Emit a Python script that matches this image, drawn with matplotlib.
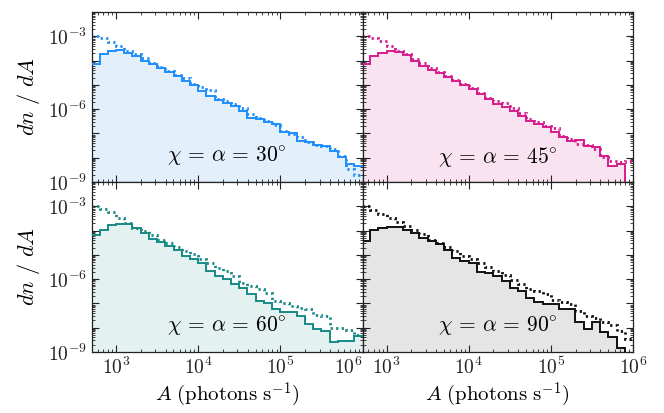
import numpy as np
import matplotlib
matplotlib.use("Agg")
import matplotlib.pyplot as plt
from matplotlib.ticker import LogLocator, FuncFormatter, NullFormatter

plt.rcParams['mathtext.fontset'] = 'cm'
plt.rcParams['font.family'] = 'serif'
plt.rcParams['font.serif'] = ['DejaVu Serif']

# log10(A) bin edges (0.1 dex bins)
log_edges = [2.7 + 0.1 * i for i in range(34)]

# log10(dn/dA)
log30_solid = [-4.16, -3.75, -3.59, -3.55, -3.68, -3.82, -4.00, -4.16, -4.30, -4.46, -4.64,
               -4.84, -5.01, -5.25, -5.46, -5.64, -5.73, -5.87, -6.07, -6.35, -6.41, -6.51,
               -6.62, -6.96, -7.00, -7.30, -7.37, -7.48, -7.51, -7.74, -7.96, -8.26, -8.33]
log30_dot = [-2.97, -3.07, -3.23, -3.41, -3.59, -3.72, -3.89, -4.09, -4.26, -4.43, -4.60,
             -4.73, -4.95, -5.09, -5.23, -5.59, -5.66, -5.80, -5.96, -6.21, -6.35, -6.48,
             -6.65, -6.92, -7.03, -7.14, -7.37, -7.47, -7.51, -7.64, -7.92, -8.45, -8.70]

log45_solid = [-4.13, -3.82, -3.68, -3.59, -3.64, -3.79, -4.00, -4.23, -4.37, -4.50, -4.68,
               -4.84, -5.01, -5.19, -5.39, -5.59, -5.80, -5.91, -6.07, -6.27, -6.48, -6.62,
               -6.75, -6.96, -7.14, -7.33, -7.27, -7.51, -7.55, -7.92, -8.33, -8.26, -12.0]
log45_dot = [-2.97, -3.07, -3.20, -3.41, -3.61, -3.75, -3.92, -4.09, -4.30, -4.46, -4.64,
             -4.81, -4.98, -5.14, -5.32, -5.53, -5.66, -5.73, -5.96, -6.14, -6.41, -6.51,
             -6.69, -6.78, -7.10, -7.24, -7.44, -7.48, -7.64, -7.99, -8.13, -8.19, -8.13]

log60_solid = [-4.20, -3.96, -3.79, -3.72, -3.72, -3.89, -4.12, -4.34, -4.48, -4.64, -4.80,
               -5.05, -5.19, -5.32, -5.66, -5.87, -6.01, -6.21, -6.35, -6.62, -6.89, -6.99,
               -7.24, -7.37, -7.37, -7.51, -7.85, -8.05, -8.12, -8.60, -8.55, -8.55, -8.33]
log60_dot = [-3.00, -3.11, -3.25, -3.48, -3.68, -3.89, -4.02, -4.20, -4.37, -4.50, -4.67,
             -4.84, -4.98, -5.16, -5.35, -5.53, -5.66, -5.87, -6.14, -6.28, -6.42, -6.58,
             -6.89, -6.99, -7.10, -7.17, -7.24, -7.48, -7.51, -8.00, -8.00, -8.10, -8.30]

log90_solid = [-4.43, -3.96, -3.89, -3.85, -3.85, -3.98, -4.12, -4.30, -4.43, -4.57, -4.80,
               -5.12, -5.25, -5.35, -5.70, -5.73, -5.87, -6.07, -6.35, -6.48, -6.76, -6.96,
               -7.03, -7.03, -7.24, -7.24, -7.78, -8.05, -7.78, -8.19, -8.40, -8.85, -12.0]
log90_dot = [-2.97, -3.14, -3.30, -3.48, -3.66, -3.82, -3.98, -4.16, -4.37, -4.50, -4.67,
             -4.84, -5.05, -5.19, -5.35, -5.49, -5.66, -5.84, -6.03, -6.21, -6.42, -6.48,
             -6.62, -6.85, -6.96, -7.03, -7.30, -7.51, -7.62, -7.78, -7.89, -8.12, -8.46]

angles = [30, 45, 60, 90]
solids = [log30_solid, log45_solid, log60_solid, log90_solid]
dots = [log30_dot, log45_dot, log60_dot, log90_dot]
line_colors = ['#1E8EFC', '#D81B8C', '#178A86', '#111111']
fill_colors = ['#E3F0FC', '#F9E3F0', '#E3F2F0', '#E5E5E5']

fig, axes = plt.subplots(2, 2, figsize=(6.64, 4.13), dpi=100, sharex=True, sharey=True)
fig.subplots_adjust(left=0.1386, right=0.9533, top=0.971, bottom=0.1477, wspace=0, hspace=0)

edges = 10 ** np.array(log_edges)
fmt = FuncFormatter(lambda v, p: r'$10^{%d}$' % round(np.log10(v)))

for k, ax in enumerate(axes.flat):
    s = 10 ** np.array(solids[k])
    d = 10 ** np.array(dots[k])
    ax.stairs(s, edges, fill=True, color=fill_colors[k], baseline=1e-12, zorder=1)
    ax.stairs(s, edges, color=line_colors[k], lw=1.4, baseline=None, zorder=3)
    ax.stairs(d, edges, color=line_colors[k], lw=2.0, ls=(0, (0.8, 1.2)), baseline=None, zorder=2)
    ax.set_xscale('log')
    ax.set_yscale('log')
    ax.set_xlim(510, 1.0e6)
    ax.set_ylim(1e-9, 1e-2)
    ax.text(0.5, 0.148, r'$\chi\,=\,\alpha\,=\,%d^{\circ}$' % angles[k], transform=ax.transAxes,
            ha='center', va='center', fontsize=15.5)
    ax.xaxis.set_major_locator(LogLocator(base=10, numticks=10))
    ax.xaxis.set_minor_locator(LogLocator(base=10, subs=np.arange(2, 10), numticks=20))
    ax.xaxis.set_major_formatter(fmt)
    ax.xaxis.set_minor_formatter(NullFormatter())
    ax.set_yticks([10.0 ** e for e in range(-9, -1)])
    ax.yaxis.set_minor_locator(LogLocator(base=10, subs=np.arange(2, 10), numticks=20))
    ax.yaxis.set_major_formatter(FuncFormatter(
        lambda v, p: (r'$10^{%d}$' % round(np.log10(v))) if round(np.log10(v)) in (-3, -6, -9) else ''))
    ax.yaxis.set_minor_formatter(NullFormatter())
    ax.tick_params(which='both', direction='in', top=True, right=True, labelsize=14, colors='#222222')
    ax.tick_params(which='major', length=5, width=0.8)
    ax.tick_params(which='minor', length=2.5, width=0.6)
    for sp in ax.spines.values():
        sp.set_linewidth(0.9)
        sp.set_color('#222222')

for ax in axes[1, :]:
    ax.set_xlabel(r'$A\ \mathrm{(photons\ s}^{\mathrm{-1}}\mathrm{)}$', fontsize=15, labelpad=2)
for ax in axes[:, 0]:
    ax.set_ylabel(r'$dn\ /\ dA$', fontsize=16, labelpad=4)

fig.canvas.draw()
for tick in axes[1, 0].xaxis.get_major_ticks():
    if abs(np.log10(tick.get_loc()) - 6) < 1e-6:
        tick.label1.set_horizontalalignment('right')

fig.savefig('out.png', dpi=100)
